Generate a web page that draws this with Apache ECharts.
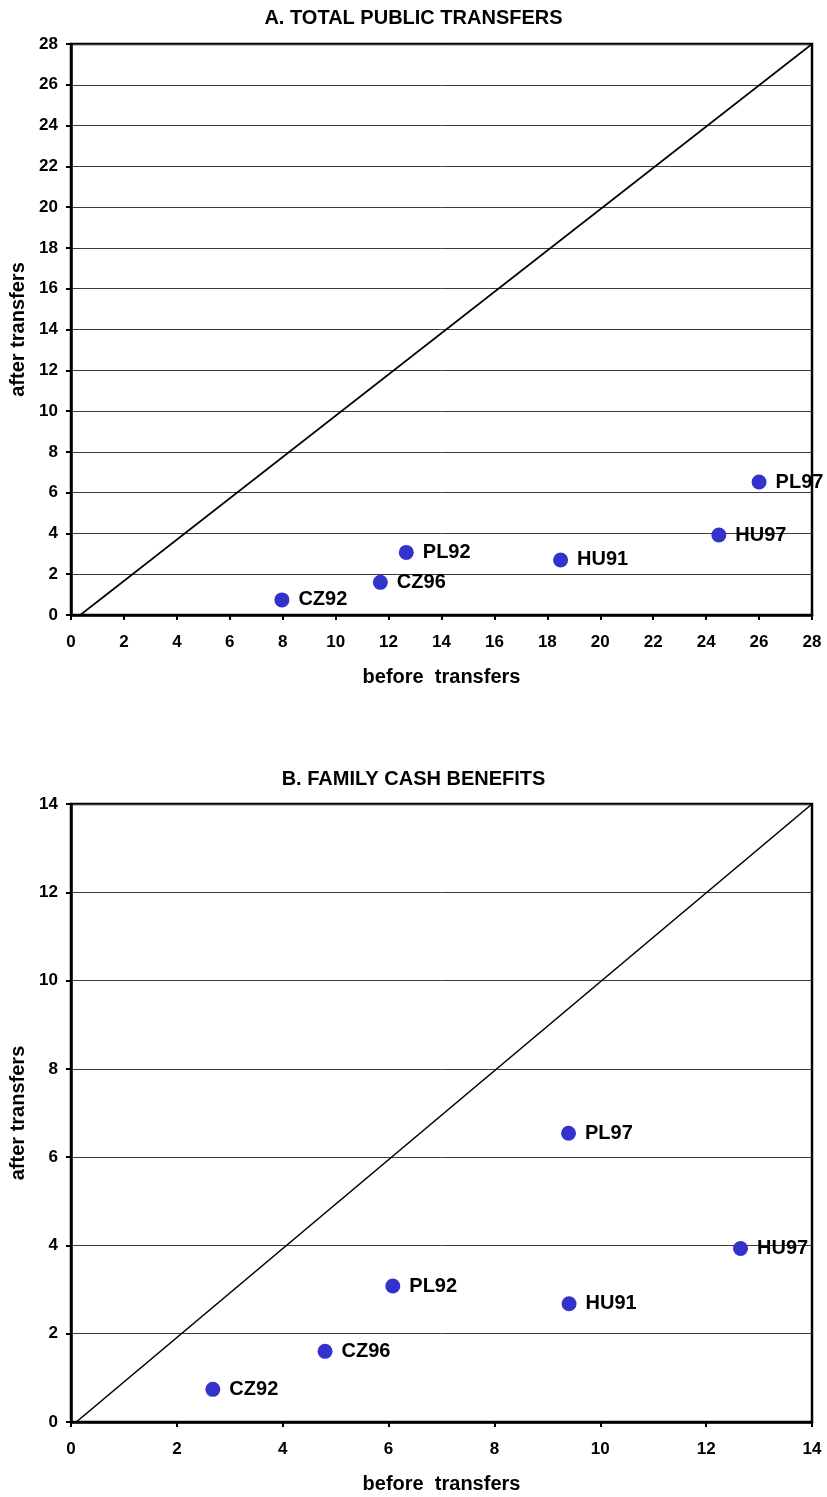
<!DOCTYPE html>
<html>
<head>
<meta charset="utf-8">
<script src="https://cdn.jsdelivr.net/npm/echarts@6/dist/echarts.min.js"></script>
<style>
html,body{margin:0;padding:0;background:#fff;}
#c{width:827px;height:1497px;}
</style>
</head>
<body>
<div id="c"></div>
<script>
// ---- data ----
const countries = ['CZ92', 'CZ96', 'PL92', 'HU91', 'HU97', 'PL97'];
const totalBefore = [7.97, 11.69, 12.67, 18.5, 24.48, 26.0];
const totalAfter = [0.74, 1.6, 3.07, 2.7, 3.92, 6.52];
const familyBefore = [2.68, 4.8, 6.08, 9.41, 12.65, 9.40];
const familyAfter = [0.74, 1.6, 3.08, 2.68, 3.93, 6.54];
const diagTotal = [[0.35, 0], [28, 28]];
const diagFamily = [[0.1, 0], [14, 14]];
const titles = ['A. TOTAL PUBLIC TRANSFERS', 'B. FAMILY CASH BENEFITS'];
const xName = 'before  transfers';
const yName = 'after transfers';

const FONT = '"Liberation Sans", Arial, sans-serif';

function pts(xs, ys) {
  return xs.map((x, i) => ({ name: countries[i], value: [x, ys[i]] }));
}

function xAxis(gi, max) {
  return {
    type: 'value', gridIndex: gi, min: 0, max: max, interval: 2,
    name: xName, nameLocation: 'middle', nameGap: 52,
    nameTextStyle: { fontFamily: FONT, fontWeight: 'bold', fontSize: 20, color: '#000' },
    axisLine: { show: true, onZero: false, lineStyle: { color: '#000', width: 2.5 } },
    axisTick: { show: true, length: 5, lineStyle: { color: '#000', width: 2 } },
    axisLabel: { margin: 19, fontFamily: FONT, fontWeight: 'bold', fontSize: 17, color: '#000' },
    splitLine: { show: false }
  };
}
function yAxis(gi, max) {
  return {
    type: 'value', gridIndex: gi, min: 0, max: max, interval: 2,
    name: yName, nameLocation: 'middle', nameGap: 30, nameRotate: 90,
    nameTextStyle: { fontFamily: FONT, fontWeight: 'bold', fontSize: 20, color: '#000' },
    axisLine: { show: true, onZero: false, lineStyle: { color: '#000', width: 2.5 } },
    axisTick: { show: true, length: 5, lineStyle: { color: '#000', width: 2 } },
    axisLabel: { margin: 13, fontFamily: FONT, fontWeight: 'bold', fontSize: 17, color: '#000' },
    splitLine: { show: true, lineStyle: { color: '#3a3a3a', width: 1 } }
  };
}
function scatter(gi, xs, ys) {
  return {
    type: 'scatter', xAxisIndex: gi, yAxisIndex: gi,
    data: pts(xs, ys), symbolSize: 15,
    itemStyle: { color: '#3333CC', opacity: 1 },
    label: {
      show: true, position: 'right', distance: 9,
      formatter: p => p.name,
      fontFamily: FONT, fontWeight: 'bold', fontSize: 20, color: '#000'
    },
    z: 5
  };
}
function diag(gi, d) {
  return {
    type: 'line', xAxisIndex: gi, yAxisIndex: gi, data: d,
    showSymbol: false, symbol: 'none', silent: true,
    lineStyle: { color: '#000', width: 1.6 }, z: 3
  };
}

const chart = echarts.init(document.getElementById('c'), null, { renderer: 'canvas' });
chart.setOption({
  backgroundColor: '#fff',
  animation: false,
  title: [
    { text: titles[0], left: 'center', top: 8, padding: 0,
      textStyle: { fontFamily: FONT, fontWeight: 'bold', fontSize: 20, color: '#000' } },
    { text: titles[1], left: 'center', top: 769, padding: 0,
      textStyle: { fontFamily: FONT, fontWeight: 'bold', fontSize: 20, color: '#000' } }
  ],
  grid: [
    { left: 71, top: 44, width: 741, height: 571, show: true, borderColor: '#000', borderWidth: 2.5, backgroundColor: 'transparent' },
    { left: 71, top: 804, width: 741, height: 618, show: true, borderColor: '#000', borderWidth: 2.5, backgroundColor: 'transparent' }
  ],
  xAxis: [xAxis(0, 28), xAxis(1, 14)],
  yAxis: [yAxis(0, 28), yAxis(1, 14)],
  series: [
    diag(0, diagTotal),
    scatter(0, totalBefore, totalAfter),
    diag(1, diagFamily),
    scatter(1, familyBefore, familyAfter)
  ]
});
</script>
</body>
</html>
